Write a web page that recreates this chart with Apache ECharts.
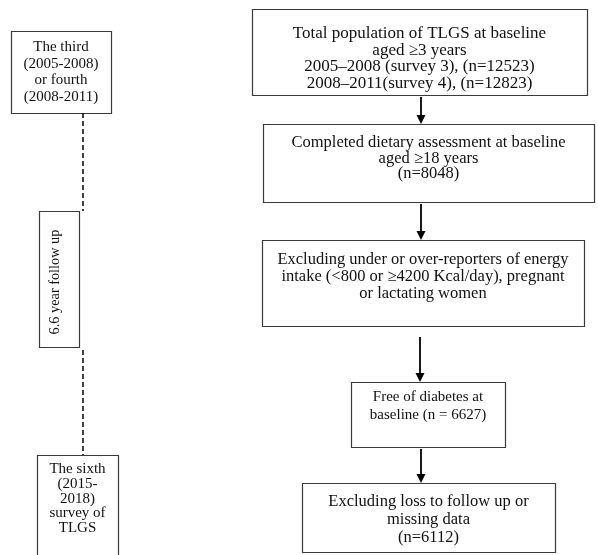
<!DOCTYPE html>
<html><head><meta charset="utf-8">
<script src="https://cdn.jsdelivr.net/npm/echarts@6/dist/echarts.min.js"></script>
<style>html,body{margin:0;padding:0;background:#fff}#c{width:598px;height:555px}</style>
</head><body><div id="c"></div>
<script>
// Flowchart content
const boxTexts = [
  ['The third', '(2005-2008)', 'or fourth', '(2008-2011)'],
  ['6.6 year follow up'],
  ['The sixth', '(2015-', '2018)', 'survey of', 'TLGS'],
  ['Total population of TLGS at baseline', 'aged \u22653 years', '2005\u20132008 (survey 3), (n=12523)', '2008\u20132011(survey 4), (n=12823)'],
  ['Completed dietary assessment at baseline', 'aged \u226518 years', '(n=8048)'],
  ['Excluding under or over-reporters of energy', 'intake (<800 or \u22654200 Kcal/day), pregnant', 'or lactating women'],
  ['Free of diabetes at', 'baseline (n = 6627)'],
  ['Excluding loss to follow up or', 'missing data', '(n=6112)']
];
// box frames: [left, top, right, bottom] in page units
const boxFrames = [
  [11, 31, 111, 113],
  [39, 211, 79, 347],
  [37, 455, 118, 565],
  [252, 9, 587, 95],
  [263, 124, 594, 202],
  [262, 240, 584, 326],
  [351, 382, 505, 447],
  [302, 483, 555, 552]
];
// first text line centre y and line step per box
const textFirstY = [47, 282, 469, 34, 143, 259.5, 397, 502];
const textStep = [16.7, 0, 14.8, 16.5, 15.3, 17, 18, 18];
const textSize = [15, 14.3, 15, 17, 16.5, 16.5, 15, 16.5];
const textRotated = [false, true, false, false, false, false, false, false];
// arrows: [x, yStart, yEnd]
const arrows = [
  [421, 95, 124],
  [421, 202, 240],
  [420, 335, 382],
  [421, 447, 483]
];
// dashed connectors: [x, yStart, yEnd]
const dashes = [
  [83, 113, 211],
  [83, 350, 455]
];

const FONT = '"Liberation Serif", "Times New Roman", serif';
const chart = echarts.init(document.getElementById('c'));

const boxData = boxFrames.map((f, i) => [f[0], f[1], f[2], f[3], i]);

chart.setOption({
  animation: false,
  grid: {left: 0, right: 0, top: 0, bottom: 0},
  xAxis: {type: 'value', min: 0, max: 598, show: false},
  yAxis: {type: 'value', min: 0, max: 555, inverse: true, show: false},
  series: [
    {
      type: 'custom',
      coordinateSystem: 'cartesian2d',
      data: boxData,
      renderItem: function (params, api) {
        const i = api.value(4);
        const p0 = api.coord([api.value(0), api.value(1)]);
        const p1 = api.coord([api.value(2), api.value(3)]);
        const w = p1[0] - p0[0], h = p1[1] - p0[1];
        const cx = (p0[0] + p1[0]) / 2;
        const children = [];
        const lines = boxTexts[i];
        const font = textSize[i] + 'px ' + FONT;
        if (textRotated[i]) {
          const c = api.coord([0, textFirstY[i]]);
          children.push({
            type: 'text', x: cx - 4, y: c[1], rotation: Math.PI / 2,
            style: {text: lines[0], x: 0, y: 0, align: 'center', verticalAlign: 'middle',
              font: font, fill: '#111'}
          });
        } else {
          lines.forEach((t, k) => {
            const c = api.coord([0, textFirstY[i] + k * textStep[i]]);
            children.push({
              type: 'text',
              style: {text: t, x: cx, y: c[1], align: 'center', verticalAlign: 'middle',
                font: font, fill: '#111'},
              clipPath: {type: 'rect', shape: {x: p0[0], y: p0[1], width: w, height: h - 1}}
            });
          });
        }
        children.push({
          type: 'rect',
          shape: {x: p0[0] + 0.5, y: p0[1] + 0.5, width: w, height: h},
          style: {fill: 'none', stroke: '#3a3a3a', lineWidth: 1.2}
        });
        return {type: 'group', children: children};
      },
      z: 2
    },
    {
      type: 'custom',
      coordinateSystem: 'cartesian2d',
      data: arrows,
      renderItem: function (params, api) {
        const a = api.coord([api.value(0), api.value(1)]);
        const b = api.coord([api.value(0), api.value(2)]);
        const hl = 9, hw = 4.5;
        return {
          type: 'group',
          children: [
            {type: 'line', shape: {x1: a[0], y1: a[1] + 2, x2: b[0], y2: b[1] - hl + 1},
              style: {stroke: '#000', lineWidth: 1.8}},
            {type: 'polygon', shape: {points: [[b[0] - hw, b[1] - hl], [b[0] + hw, b[1] - hl], [b[0], b[1]]]},
              style: {fill: '#000'}}
          ]
        };
      },
      z: 3
    },
    {
      type: 'custom',
      coordinateSystem: 'cartesian2d',
      data: dashes,
      renderItem: function (params, api) {
        const a = api.coord([api.value(0), api.value(1)]);
        const b = api.coord([api.value(0), api.value(2)]);
        return {
          type: 'line', shape: {x1: a[0], y1: a[1], x2: b[0], y2: b[1]},
          style: {stroke: '#111', lineWidth: 1.6, lineDash: [5, 3]}
        };
      },
      z: 3
    }
  ]
});
</script>
</body></html>
